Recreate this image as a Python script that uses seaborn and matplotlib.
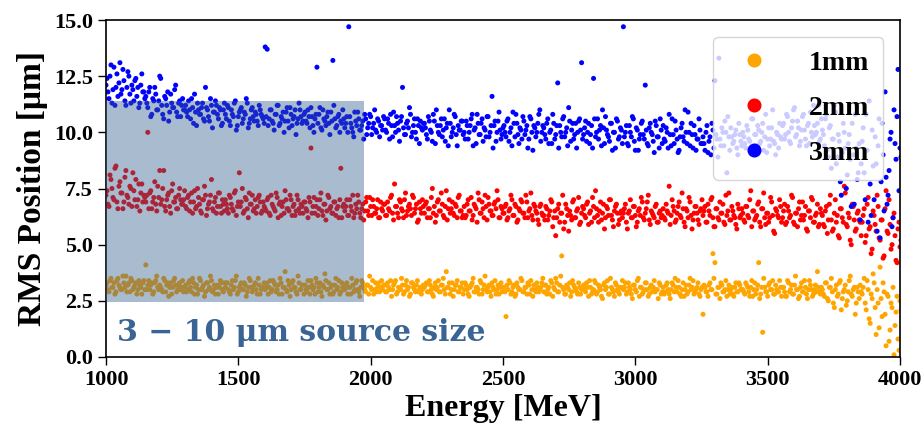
import numpy as np
import pandas as pd
import matplotlib
matplotlib.use("Agg")
import matplotlib.pyplot as plt
import seaborn as sns
from matplotlib.patches import Rectangle

# RMS position values in tenths of a micrometre.
# Two interleaved sampling passes of 400 energies each over 1000-4000 MeV.
rms_3mm_tenths = [
121,118,125,113,129,120,116,131,119,123,112,127,117,121,114,124,120,113,126,118,
116,111,120,108,114,117,110,125,112,106,115,118,109,113,111,121,107,114,112,110,
112,107,110,115,104,109,113,108,111,106,120,110,105,112,109,114,108,111,103,110,
108,112,105,110,107,114,103,109,111,106,108,113,104,110,107,109,105,112,108,106,
138,137,106,110,104,108,112,103,107,109,105,111,102,108,106,110,104,113,107,105,
109,104,107,111,103,106,129,108,102,110,105,107,104,109,132,106,103,108,105,110,
102,107,147,104,100,109,103,106,101,105,108,99,104,107,102,110,100,105,103,101,
106,100,104,108,98,103,107,101,105,120,99,104,102,108,100,106,97,103,105,101,
104,99,107,101,96,105,110,100,103,98,106,102,94,104,100,108,99,103,101,105,
100,105,97,103,108,101,95,104,99,106,102,98,107,100,116,103,96,105,101,99,
103,98,106,100,94,104,108,99,102,97,105,101,93,107,100,103,98,104,110,100,
102,97,106,100,95,104,99,122,103,98,107,100,94,105,101,97,104,100,106,131,
99,105,100,95,103,124,98,106,101,94,102,107,99,96,104,100,93,105,98,101,
147,100,95,103,98,106,92,101,97,104,99,121,95,102,100,96,105,98,93,101,
103,96,100,108,94,99,105,97,92,102,98,110,95,100,104,93,99,97,106,95,
98,92,103,96,90,101,123,97,133,94,100,105,82,98,102,95,99,93,104,96,
100,95,103,97,92,106,99,94,101,96,104,98,91,102,97,110,95,100,93,98,
103,97,108,100,95,105,111,99,102,96,107,101,94,104,109,98,103,100,112,97,
101,94,108,89,103,97,112,86,99,78,91,100,75,95,88,104,68,93,82,61,
96,82,108,60,77,101,70,86,94,53,104,65,80,72,97,58,110,88,128,93,
]
rms_3mm_tenths_b = [
124,115,130,119,112,126,122,117,128,114,120,125,113,119,123,116,111,121,118,115,
113,118,107,115,120,110,114,124,108,116,112,105,117,111,119,109,113,107,115,110,
109,114,106,111,117,103,110,108,113,105,111,107,115,102,109,112,106,110,104,113,
106,111,103,108,113,101,107,110,104,109,115,102,106,111,105,108,103,110,107,104,
107,103,110,105,101,108,112,104,106,100,109,105,111,103,107,99,106,110,104,108,
105,110,102,107,100,108,104,111,101,106,103,109,99,105,112,102,107,100,104,106,
104,100,107,102,98,105,109,101,103,97,106,102,108,99,104,101,106,98,103,107,
101,106,97,103,109,100,104,96,107,102,99,105,111,98,103,100,106,95,102,104,
102,97,105,100,108,95,103,99,106,101,96,104,110,98,102,107,94,101,105,99,
97,103,100,106,94,102,108,99,104,96,101,107,98,103,93,105,100,109,97,102,
100,105,96,102,109,98,104,95,101,107,99,103,97,106,92,102,100,108,96,103,
99,104,95,101,108,97,103,93,100,106,98,102,111,96,104,99,93,105,101,97,
102,96,104,99,93,106,100,97,103,110,95,101,98,104,92,100,106,97,102,95,
98,103,94,100,107,96,102,92,99,105,97,101,94,104,99,91,103,98,106,95,
97,102,93,99,106,95,101,91,98,104,96,100,109,94,99,103,92,97,101,95,
95,100,91,98,104,93,99,89,97,102,94,100,107,92,98,96,101,90,99,94,
98,93,101,96,106,91,99,103,95,100,92,108,97,94,102,96,90,99,104,97,
104,99,107,96,102,110,98,105,94,101,108,97,103,95,100,112,99,104,96,106,
99,106,92,102,84,97,109,89,96,72,104,93,81,99,67,90,108,79,95,86,
102,70,92,114,63,85,98,56,106,78,90,118,68,83,100,62,95,107,74,89,
]
rms_2mm_tenths = [
72,68,81,75,70,85,66,78,73,69,83,71,76,67,74,79,70,65,77,72,
69,100,73,66,71,68,76,83,70,83,65,72,67,74,69,71,66,75,68,70,
67,71,65,73,69,66,75,68,64,70,72,66,69,79,65,71,67,73,64,68,
70,66,72,68,65,74,67,82,69,64,71,66,73,68,65,70,67,72,64,69,
66,70,64,72,67,65,71,68,63,69,74,66,65,70,67,63,72,66,68,64,
69,65,71,93,67,64,70,66,73,63,68,65,71,67,64,69,66,62,84,67,
65,70,63,67,72,64,66,69,62,68,65,71,63,67,70,64,66,62,69,65,
68,63,66,71,64,77,67,62,69,65,70,63,67,66,72,64,68,61,66,70,
64,69,66,62,75,67,63,70,65,68,62,74,66,64,69,63,67,71,65,62,
67,63,70,65,61,68,66,73,64,69,62,67,71,65,63,68,66,70,62,66,
64,68,62,66,70,63,67,61,65,69,64,72,62,66,63,68,65,61,67,64,
63,67,61,65,69,62,54,66,60,64,57,68,63,65,61,70,62,66,59,64,
66,62,69,64,60,67,74,63,65,61,68,62,66,70,63,58,67,64,61,65,
64,68,57,65,62,67,63,60,66,71,62,64,69,61,65,63,67,60,64,62,
66,61,65,76,63,67,60,64,69,62,66,58,65,71,63,61,67,64,59,66,
63,67,60,65,70,62,58,66,61,64,68,59,63,73,61,65,62,57,66,63,
64,60,67,62,74,65,61,63,69,58,66,62,64,60,71,63,55,65,62,67,
62,68,60,65,63,71,59,64,66,61,69,63,57,65,62,70,60,64,58,66,
63,58,67,61,72,56,64,60,54,66,62,76,59,64,52,68,61,57,65,60,
60,66,54,71,58,48,63,56,67,52,61,45,74,55,59,50,64,43,57,49,
]
rms_2mm_tenths_b = [
74,67,79,71,84,69,76,73,66,80,72,68,75,82,70,67,77,73,69,71,
72,66,74,69,78,65,71,68,75,67,70,73,64,77,69,66,72,70,68,74,
66,72,69,64,74,67,71,65,70,76,63,68,72,66,69,64,73,67,70,65,
68,64,71,66,73,63,69,67,75,65,70,62,68,72,66,64,71,69,65,67,
65,71,63,68,66,73,62,69,67,64,70,66,72,63,68,65,70,64,67,69,
66,62,69,64,71,67,63,70,65,68,61,72,66,64,69,63,67,70,62,68,
67,63,70,65,62,68,72,64,66,61,69,65,71,63,67,64,70,62,66,68,
63,69,65,72,61,67,64,70,66,62,73,65,68,63,71,66,60,69,64,67,
68,62,66,71,64,60,69,65,73,63,67,61,70,66,64,68,62,72,65,63,
62,68,65,71,63,67,60,70,64,66,72,61,68,65,63,69,74,62,67,64,
67,61,65,72,63,68,60,66,70,64,62,69,65,73,61,67,64,59,68,63,
61,66,63,70,58,65,62,68,64,72,60,66,56,63,69,62,65,71,60,67,
63,68,59,65,71,62,66,60,69,64,57,67,63,70,61,65,68,59,64,62,
66,60,64,70,62,67,58,65,63,69,61,66,72,59,64,62,68,60,65,63,
62,68,64,59,70,65,61,67,63,73,60,66,62,69,57,64,67,61,65,70,
65,60,68,63,71,58,66,62,69,64,60,72,65,61,67,63,59,68,62,66,
61,67,63,70,58,65,62,68,60,66,73,59,64,62,69,56,66,63,70,60,
65,59,67,62,72,60,64,58,69,63,61,67,56,65,71,60,63,68,59,64,
59,65,55,68,61,57,70,63,53,66,60,73,58,62,50,67,56,64,61,54,
63,51,68,57,46,65,59,72,53,61,44,66,56,70,48,62,54,42,60,52,
]
rms_1mm_tenths = [
32,30,34,31,33,29,35,31,30,33,36,32,29,34,31,33,30,32,28,34,
41,32,30,33,29,34,31,32,30,35,29,33,31,28,34,32,30,33,31,29,
32,30,34,29,33,31,28,35,30,32,29,33,31,34,30,28,32,31,33,29,
31,33,29,32,30,34,28,31,33,30,32,29,35,31,30,33,28,32,30,31,
30,33,31,29,34,32,30,28,33,31,38,29,32,30,34,31,28,33,30,32,
32,29,31,34,30,28,33,31,29,32,37,30,33,31,28,32,30,34,29,31,
30,33,31,28,32,30,34,29,31,33,30,32,28,31,34,30,29,33,31,30,
32,29,31,34,30,33,28,31,30,32,29,34,31,28,33,30,32,29,31,30,
31,33,29,32,28,31,30,34,29,32,30,38,31,28,33,30,32,29,31,33,
30,32,28,31,33,29,31,30,34,28,32,30,31,29,33,30,28,32,31,29,
31,18,30,33,29,32,28,31,30,34,29,31,33,28,30,32,29,31,30,33,
29,32,30,28,33,31,35,29,32,45,30,28,31,33,29,32,30,28,31,30,
32,29,31,34,28,30,33,29,31,27,32,30,34,28,31,29,33,30,28,31,
30,33,29,31,28,32,30,34,27,31,29,33,30,28,32,31,29,30,33,28,
31,29,33,28,30,32,35,29,31,27,33,30,28,32,30,34,29,31,28,30,
19,31,29,32,30,46,42,28,31,33,29,30,27,32,30,28,31,29,33,30,
30,28,32,29,31,27,33,30,42,28,11,31,29,32,30,34,28,30,29,31,
31,29,27,33,30,28,32,30,26,31,29,34,28,30,32,27,30,29,31,28,
30,27,33,25,31,29,22,32,28,34,26,30,23,29,36,27,31,24,29,32,
28,35,21,30,15,26,33,10,24,40,18,29,5,27,12,22,1,20,8,25,
]
rms_1mm_tenths_b = [
33,29,35,31,28,34,32,30,36,31,29,33,35,30,32,28,34,31,33,30,
30,34,32,28,33,36,30,31,29,34,32,27,33,31,35,29,32,30,34,31,
29,33,31,35,28,32,30,34,31,27,33,30,36,29,32,31,28,34,30,33,
33,30,28,34,31,36,29,32,30,33,27,31,34,29,32,30,35,28,31,33,
31,28,34,30,33,29,32,35,28,31,30,34,27,33,31,29,36,30,32,28,
30,34,28,32,31,35,29,33,27,31,34,30,28,32,29,35,31,28,33,30,
32,28,31,35,29,33,30,27,34,31,29,32,36,30,28,33,31,29,34,32,
29,33,30,27,32,34,29,31,35,28,32,30,27,33,31,29,34,30,28,32,
32,29,34,30,27,33,31,29,32,35,28,31,33,30,27,32,34,29,31,28,
33,30,27,32,35,29,31,28,33,30,36,29,32,27,31,34,30,28,33,31,
29,32,34,28,31,27,33,30,35,29,31,28,32,34,27,30,33,29,31,35,
32,28,31,34,27,30,33,29,36,31,28,32,30,27,34,31,29,33,28,31,
30,33,27,31,29,34,28,32,30,26,33,31,28,35,30,27,32,29,31,34,
31,28,33,30,26,32,29,35,31,28,30,33,27,31,29,34,30,26,32,29,
28,32,30,26,33,29,31,34,28,30,27,32,29,35,31,28,30,33,27,31,
32,29,27,33,30,35,28,31,26,32,29,34,30,28,31,27,33,29,32,30,
29,33,31,27,34,30,28,32,26,31,35,29,27,33,30,28,32,29,34,27,
31,27,34,29,32,28,36,30,27,33,29,31,26,34,30,28,32,38,29,31,
28,33,26,31,35,24,30,27,33,21,29,32,25,34,28,30,19,31,26,29,
31,24,34,17,28,37,22,30,13,26,33,19,28,7,24,31,14,27,3,21,
]
series_labels = ["1mm", "2mm", "3mm"]
series_colors = ["orange", "red", "blue"]
energy_start, energy_stop = 1000, 4000

n = len(rms_1mm_tenths)
step = (energy_stop - energy_start) / (n - 1)
energy_a = np.linspace(energy_start, energy_stop, n)
energy_b = energy_a + step / 2
frames = []
passes = {
    "1mm": (rms_1mm_tenths, rms_1mm_tenths_b),
    "2mm": (rms_2mm_tenths, rms_2mm_tenths_b),
    "3mm": (rms_3mm_tenths, rms_3mm_tenths_b),
}
for lab in series_labels:
    va, vb = passes[lab]
    frames.append(pd.DataFrame({"Energy": np.concatenate([energy_a, energy_b]),
                                "RMS": np.concatenate([va, vb]) / 10.0,
                                "Source": lab}))
df = pd.concat(frames, ignore_index=True)

sns.set_style("ticks")
plt.rcParams["font.family"] = ["Liberation Serif", "DejaVu Serif"]
plt.rcParams["font.weight"] = "bold"
plt.rcParams["axes.labelweight"] = "bold"
plt.rcParams["mathtext.fontset"] = "dejavuserif"
for key in ["text.color", "axes.labelcolor", "xtick.color", "ytick.color"]:
    plt.rcParams[key] = "black"

fig = plt.figure(figsize=(9.24, 4.28), dpi=100)
ax = fig.add_axes([106/924, 1-357/428, (900-106)/924, (357-20)/428])

sns.scatterplot(data=df, x="Energy", y="RMS", hue="Source",
                hue_order=series_labels, palette=series_colors,
                s=13, linewidth=0, ax=ax)

ax.add_patch(Rectangle((1000, 2.45), 975, 8.95, facecolor="#345d8c",
                       alpha=0.42, edgecolor="none", zorder=5))

ax.text(1040, 0.7, "3 − 10 μm source size", fontsize=21.5, fontweight="bold",
        family="DejaVu Serif", color="#3a6494", zorder=6)

ax.set_xlim(energy_start, energy_stop)
ax.set_ylim(0, 15)
ax.set_xticks([1000, 1500, 2000, 2500, 3000, 3500, 4000])
ax.set_yticks([0, 2.5, 5, 7.5, 10, 12.5, 15])
ax.set_yticklabels(["0.0", "2.5", "5.0", "7.5", "10.0", "12.5", "15.0"])
ax.tick_params(labelsize=16, length=6, width=1, colors="black")
for lbl in ax.get_xticklabels() + ax.get_yticklabels():
    lbl.set_fontweight("bold")
ax.set_xlabel("Energy [MeV]", fontsize=23, fontweight="bold", labelpad=3)
ax.set_ylabel("RMS Position [μm]", fontsize=24, fontweight="bold", labelpad=4)
for sp in ax.spines.values():
    sp.set_visible(True)
    sp.set_color("black")
    sp.set_linewidth(1.2)

leg = ax.legend(loc="upper right", markerscale=2.8,
                prop={"weight": "bold", "size": 20},
                labelspacing=0.7, handlelength=1.9, handletextpad=1.05,
                borderpad=0.5, borderaxespad=0.6, framealpha=0.8)
leg.set_zorder(7)

fig.savefig("out.png", dpi=100)
